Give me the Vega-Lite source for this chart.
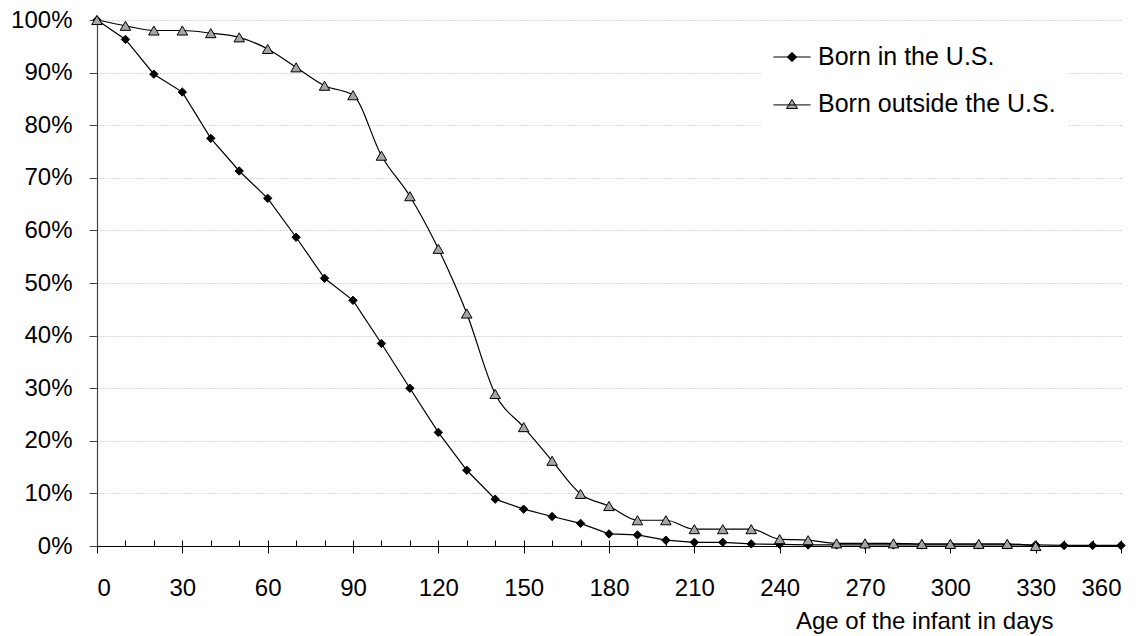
{
  "$schema": "https://vega.github.io/schema/vega-lite/v6.json",
  "width": 1024,
  "height": 526,
  "autosize": {"type": "none"},
  "padding": {"left": 97, "top": 20, "right": 25, "bottom": 90},
  "background": "white",
  "config": {
    "view": {"stroke": null},
    "font": "Liberation Sans",
    "axis": {"labelFont": "Liberation Sans", "titleFont": "Liberation Sans", "labelFontSize": 24, "titleFontSize": 24, "labelColor": "black", "titleColor": "black", "titleFontWeight": "normal"},
    "legend": {"labelFont": "Liberation Sans"}
  },
  "data": {
    "values": [
      {"day": 0, "series": "Born in the U.S.", "pct": 100},
      {"day": 10, "series": "Born in the U.S.", "pct": 96.3},
      {"day": 20, "series": "Born in the U.S.", "pct": 89.7},
      {"day": 30, "series": "Born in the U.S.", "pct": 86.3},
      {"day": 40, "series": "Born in the U.S.", "pct": 77.5},
      {"day": 50, "series": "Born in the U.S.", "pct": 71.3},
      {"day": 60, "series": "Born in the U.S.", "pct": 66.1},
      {"day": 70, "series": "Born in the U.S.", "pct": 58.7},
      {"day": 80, "series": "Born in the U.S.", "pct": 50.9},
      {"day": 90, "series": "Born in the U.S.", "pct": 46.7},
      {"day": 100, "series": "Born in the U.S.", "pct": 38.5},
      {"day": 110, "series": "Born in the U.S.", "pct": 30.0},
      {"day": 120, "series": "Born in the U.S.", "pct": 21.6},
      {"day": 130, "series": "Born in the U.S.", "pct": 14.4},
      {"day": 140, "series": "Born in the U.S.", "pct": 8.9},
      {"day": 150, "series": "Born in the U.S.", "pct": 7.0},
      {"day": 160, "series": "Born in the U.S.", "pct": 5.6},
      {"day": 170, "series": "Born in the U.S.", "pct": 4.3},
      {"day": 180, "series": "Born in the U.S.", "pct": 2.3},
      {"day": 190, "series": "Born in the U.S.", "pct": 2.1},
      {"day": 200, "series": "Born in the U.S.", "pct": 1.1},
      {"day": 210, "series": "Born in the U.S.", "pct": 0.7},
      {"day": 220, "series": "Born in the U.S.", "pct": 0.7},
      {"day": 230, "series": "Born in the U.S.", "pct": 0.4},
      {"day": 240, "series": "Born in the U.S.", "pct": 0.3},
      {"day": 250, "series": "Born in the U.S.", "pct": 0.2},
      {"day": 260, "series": "Born in the U.S.", "pct": 0.2},
      {"day": 270, "series": "Born in the U.S.", "pct": 0.2},
      {"day": 280, "series": "Born in the U.S.", "pct": 0.2},
      {"day": 290, "series": "Born in the U.S.", "pct": 0.2},
      {"day": 300, "series": "Born in the U.S.", "pct": 0.2},
      {"day": 310, "series": "Born in the U.S.", "pct": 0.2},
      {"day": 320, "series": "Born in the U.S.", "pct": 0.2},
      {"day": 330, "series": "Born in the U.S.", "pct": 0.2},
      {"day": 340, "series": "Born in the U.S.", "pct": 0.1},
      {"day": 350, "series": "Born in the U.S.", "pct": 0.1},
      {"day": 360, "series": "Born in the U.S.", "pct": 0.1},
      {"day": 0, "series": "Born outside the U.S.", "pct": 100},
      {"day": 10, "series": "Born outside the U.S.", "pct": 98.9},
      {"day": 20, "series": "Born outside the U.S.", "pct": 98.0},
      {"day": 30, "series": "Born outside the U.S.", "pct": 98.0},
      {"day": 40, "series": "Born outside the U.S.", "pct": 97.5},
      {"day": 50, "series": "Born outside the U.S.", "pct": 96.7},
      {"day": 60, "series": "Born outside the U.S.", "pct": 94.5},
      {"day": 70, "series": "Born outside the U.S.", "pct": 91.0},
      {"day": 80, "series": "Born outside the U.S.", "pct": 87.5},
      {"day": 90, "series": "Born outside the U.S.", "pct": 85.7},
      {"day": 100, "series": "Born outside the U.S.", "pct": 74.2},
      {"day": 110, "series": "Born outside the U.S.", "pct": 66.5},
      {"day": 120, "series": "Born outside the U.S.", "pct": 56.5},
      {"day": 130, "series": "Born outside the U.S.", "pct": 44.2},
      {"day": 140, "series": "Born outside the U.S.", "pct": 28.9},
      {"day": 150, "series": "Born outside the U.S.", "pct": 22.6},
      {"day": 160, "series": "Born outside the U.S.", "pct": 16.2},
      {"day": 170, "series": "Born outside the U.S.", "pct": 9.9},
      {"day": 180, "series": "Born outside the U.S.", "pct": 7.6},
      {"day": 190, "series": "Born outside the U.S.", "pct": 4.9},
      {"day": 200, "series": "Born outside the U.S.", "pct": 4.9},
      {"day": 210, "series": "Born outside the U.S.", "pct": 3.2},
      {"day": 220, "series": "Born outside the U.S.", "pct": 3.2},
      {"day": 230, "series": "Born outside the U.S.", "pct": 3.2},
      {"day": 240, "series": "Born outside the U.S.", "pct": 1.3},
      {"day": 250, "series": "Born outside the U.S.", "pct": 1.1},
      {"day": 260, "series": "Born outside the U.S.", "pct": 0.5},
      {"day": 270, "series": "Born outside the U.S.", "pct": 0.5},
      {"day": 280, "series": "Born outside the U.S.", "pct": 0.5},
      {"day": 290, "series": "Born outside the U.S.", "pct": 0.4},
      {"day": 300, "series": "Born outside the U.S.", "pct": 0.4},
      {"day": 310, "series": "Born outside the U.S.", "pct": 0.4},
      {"day": 320, "series": "Born outside the U.S.", "pct": 0.4},
      {"day": 330, "series": "Born outside the U.S.", "pct": 0.0}
    ]
  },
  "resolve": {"axis": {"x": "independent"}},
  "layer": [
    {
      "transform": [{"filter": "datum.series === 'Born in the U.S.'"}],
      "mark": {"type": "line", "color": "black", "strokeWidth": 1.2, "interpolate": "linear"},
      "encoding": {
        "x": {"field": "day", "type": "quantitative", "scale": {"domain": [0, 360], "nice": false},
          "axis": {"values": [0, 30, 60, 90, 120, 150, 180, 210, 240, 270, 300, 330, 360], "grid": false, "domainColor": "black", "domainWidth": 1, "tickColor": "black", "tickSize": 7, "labelPadding": 23,
            "title": "Age of the infant in days", "titleX": 956, "titleY": 82.5, "titleAlign": "right", "titleAnchor": null, "titleBaseline": "alphabetic"}},
        "y": {"field": "pct", "type": "quantitative", "scale": {"domain": [0, 100], "nice": false},
          "axis": {"values": [0, 10, 20, 30, 40, 50, 60, 70, 80, 90, 100], "labelExpr": "datum.value + '%'", "title": null, "grid": true, "gridColor": "#b4b4b4", "gridDash": [1, 2], "gridWidth": 1, "domainColor": "#444444", "domainWidth": 1.2, "tickColor": "#444444", "tickSize": 8, "labelPadding": 17}}
      }
    },
    {
      "transform": [{"filter": "datum.series === 'Born outside the U.S.'"}],
      "mark": {"type": "line", "color": "black", "strokeWidth": 1.2, "interpolate": "monotone"},
      "encoding": {
        "x": {"field": "day", "type": "quantitative", "axis": null},
        "y": {"field": "pct", "type": "quantitative",
          "axis": {"values": [0, 10, 20, 30, 40, 50, 60, 70, 80, 90, 100], "labelExpr": "datum.value + '%'", "title": null, "grid": true, "gridColor": "#b4b4b4", "gridDash": [1, 2], "gridWidth": 1, "domainColor": "#444444", "domainWidth": 1.2, "tickColor": "#444444", "tickSize": 8, "labelPadding": 17}}
      }
    },
    {
      "transform": [{"filter": "datum.series === 'Born in the U.S.'"}],
      "mark": {"type": "point", "shape": "diamond", "filled": true, "fill": "black", "stroke": "black", "strokeWidth": 1, "opacity": 1, "size": 70},
      "encoding": {
        "x": {"field": "day", "type": "quantitative", "axis": null},
        "y": {"field": "pct", "type": "quantitative",
          "axis": {"values": [0, 10, 20, 30, 40, 50, 60, 70, 80, 90, 100], "labelExpr": "datum.value + '%'", "title": null, "grid": true, "gridColor": "#b4b4b4", "gridDash": [1, 2], "gridWidth": 1, "domainColor": "#444444", "domainWidth": 1.2, "tickColor": "#444444", "tickSize": 8, "labelPadding": 17}}
      }
    },
    {
      "transform": [{"filter": "datum.series === 'Born outside the U.S.'"}],
      "mark": {"type": "point", "shape": "triangle-up", "filled": true, "fill": "#a6a6a6", "stroke": "black", "strokeWidth": 1, "opacity": 1, "size": 110},
      "encoding": {
        "x": {"field": "day", "type": "quantitative", "axis": null},
        "y": {"field": "pct", "type": "quantitative",
          "axis": {"values": [0, 10, 20, 30, 40, 50, 60, 70, 80, 90, 100], "labelExpr": "datum.value + '%'", "title": null, "grid": true, "gridColor": "#b4b4b4", "gridDash": [1, 2], "gridWidth": 1, "domainColor": "#444444", "domainWidth": 1.2, "tickColor": "#444444", "tickSize": 8, "labelPadding": 17}}
      }
    },
    {
      "mark": {"type": "point", "filled": true, "stroke": "black", "strokeWidth": 1, "opacity": 0},
      "encoding": {
        "x": {"field": "day", "type": "quantitative",
          "axis": {"orient": "top", "offset": -526, "values": [0, 10, 20, 30, 40, 50, 60, 70, 80, 90, 100, 110, 120, 130, 140, 150, 160, 170, 180, 190, 200, 210, 220, 230, 240, 250, 260, 270, 280, 290, 300, 310, 320, 330, 340, 350, 360], "tickSize": 6, "tickColor": "black", "labels": false, "domain": false, "grid": false, "title": null}},
        "y": {"field": "pct", "type": "quantitative",
          "axis": {"values": [0, 10, 20, 30, 40, 50, 60, 70, 80, 90, 100], "labelExpr": "datum.value + '%'", "title": null, "grid": true, "gridColor": "#b4b4b4", "gridDash": [1, 2], "gridWidth": 1, "domainColor": "#444444", "domainWidth": 1.2, "tickColor": "#444444", "tickSize": 8, "labelPadding": 17}},
        "shape": {"field": "series", "type": "nominal", "scale": {"domain": ["Born in the U.S.", "Born outside the U.S."], "range": ["M-1,0H1M0,-0.25L0.25,0L0,0.25L-0.25,0Z", "M-1,0.05H1M0,-0.24L0.3,0.24L-0.3,0.24Z"]},
          "legend": {"title": null, "orient": "none", "legendX": 664, "legendY": 6, "padding": 12, "fillColor": "white", "symbolSize": 1369, "symbolStrokeWidth": 1, "symbolStrokeColor": "black", "symbolOpacity": 1, "labelFontSize": 25, "labelColor": "black", "labelOffset": 7, "rowPadding": 15, "labelLimit": 0,
            "encode": {"symbols": {"update": {"stroke": {"value": "black"}, "strokeWidth": {"value": 1}, "strokeOpacity": {"value": 1}, "opacity": {"value": 1}}}}}},
        "fill": {"field": "series", "type": "nominal", "scale": {"domain": ["Born in the U.S.", "Born outside the U.S."], "range": ["black", "#a6a6a6"]},
          "legend": {"title": null, "orient": "none", "legendX": 664, "legendY": 6, "padding": 12, "fillColor": "white", "symbolSize": 1369, "symbolStrokeWidth": 1, "symbolStrokeColor": "black", "symbolOpacity": 1, "labelFontSize": 25, "labelColor": "black", "labelOffset": 7, "rowPadding": 15, "labelLimit": 0,
            "encode": {"symbols": {"update": {"stroke": {"value": "black"}, "strokeWidth": {"value": 1}, "strokeOpacity": {"value": 1}, "opacity": {"value": 1}}}}}}
      }
    }
  ]
}
